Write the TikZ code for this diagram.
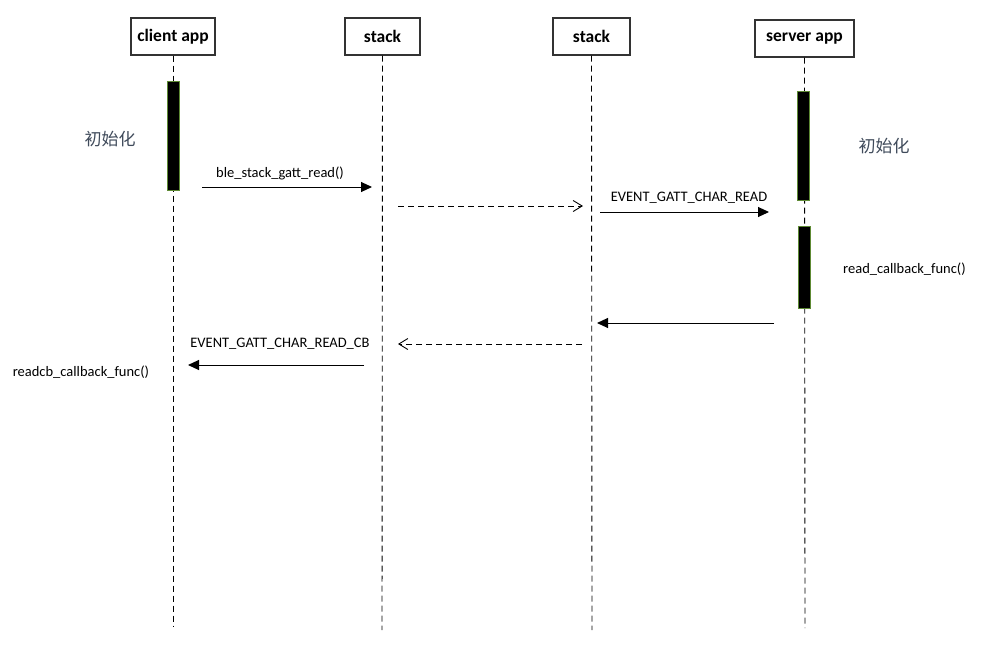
\documentclass[tikz,border=0pt]{standalone}
\usepackage{fontspec}
\setmainfont{Carlito}
\newfontfamily\cjk{Noto Sans CJK SC}
\usetikzlibrary{arrows.meta}
\definecolor{boxline}{HTML}{333333}
\definecolor{barline}{HTML}{5E8A34}
\definecolor{cjkcol}{HTML}{3F4A5A}
\tikzset{
  actor/.style={draw=boxline, line width=1.4pt, fill=white, minimum height=37pt, inner sep=0pt, font=\fontsize{17.5}{20}\selectfont\bfseries},
  lifeline/.style={draw=black, line width=0.9pt, dash pattern=on 6pt off 4pt},
  actbar/.style={draw=barline, line width=1pt, fill=black},
  msg/.style={line width=1pt, -{Triangle[length=11pt,width=10pt]}},
  ret/.style={line width=0.9pt, dash pattern=on 6pt off 4pt, -{Straight Barb[length=9pt,width=11pt,line width=0.9pt]}},
  lbl/.style={font=\fontsize{14.5}{17}\selectfont, inner sep=0pt},
  cjklbl/.style={font=\cjk\fontsize{17}{20}\selectfont, text=cjkcol, inner sep=0pt}
}
\begin{document}
\begin{tikzpicture}[x=1pt,y=-1pt]
\useasboundingbox (0,0) rectangle (998,646);
% actors
\node[actor, minimum width=84pt] (client) at (173,36.5) {client app};
\node[actor, minimum width=75pt] (stackA) at (382.5,36.5) {stack};
\node[actor, minimum width=77pt] (stackB) at (591.5,36.5) {stack};
\node[actor, minimum width=99pt] (server) at (804.5,38.5) {server app};
% lifeline ends
\coordinate (clientEnd) at (173,627);
\coordinate (stackAEnd) at (382,630);
\coordinate (stackBEnd) at (592,630);
\coordinate (serverEnd) at (805,628);
\draw[lifeline] (client.south) -- (clientEnd);
\draw[lifeline] (stackA.south) -- (stackAEnd);
\draw[lifeline] (stackB.south) -- (stackBEnd);
\draw[lifeline] (server.south) -- (serverEnd);
% activation bars
\draw[actbar] (167,81) rectangle (179,190);
\draw[actbar] (797,91) rectangle (809,200);
\draw[actbar] (798,226) rectangle (810,308);
% texts
\node[cjklbl] (initL) at (110,139) {初始化};
\node[cjklbl] (initR) at (884,146) {初始化};
% messages
\coordinate (m1s) at (202,187);
\coordinate (m1e) at (372,187);
\draw[msg] (m1s) -- (m1e);
\node[lbl] (l1) at (280,173) {ble\_stack\_gatt\_read()};
\coordinate (d1s) at (398,206);
\coordinate (d1e) at (583,206);
\draw[ret] (d1s) -- (d1e);
\coordinate (m2s) at (600,212);
\coordinate (m2e) at (769,212);
\draw[msg] (m2s) -- (m2e);
\node[lbl] (l2) at (689,198) {EVENT\_GATT\_CHAR\_READ};
\node[lbl] (l3) at (904.5,269) {read\_callback\_func()};
\coordinate (m3s) at (774,323);
\coordinate (m3e) at (597,323);
\draw[msg] (m3s) -- (m3e);
\coordinate (d2s) at (582,344);
\coordinate (d2e) at (398,344);
\draw[ret] (d2s) -- (d2e);
\node[lbl] (l4) at (280,344) {EVENT\_GATT\_CHAR\_READ\_CB};
\coordinate (m4s) at (364,365);
\coordinate (m4e) at (188,365);
\draw[msg] (m4s) -- (m4e);
\node[lbl] (l5) at (81,372) {readcb\_callback\_func()};
\end{tikzpicture}
\end{document}
